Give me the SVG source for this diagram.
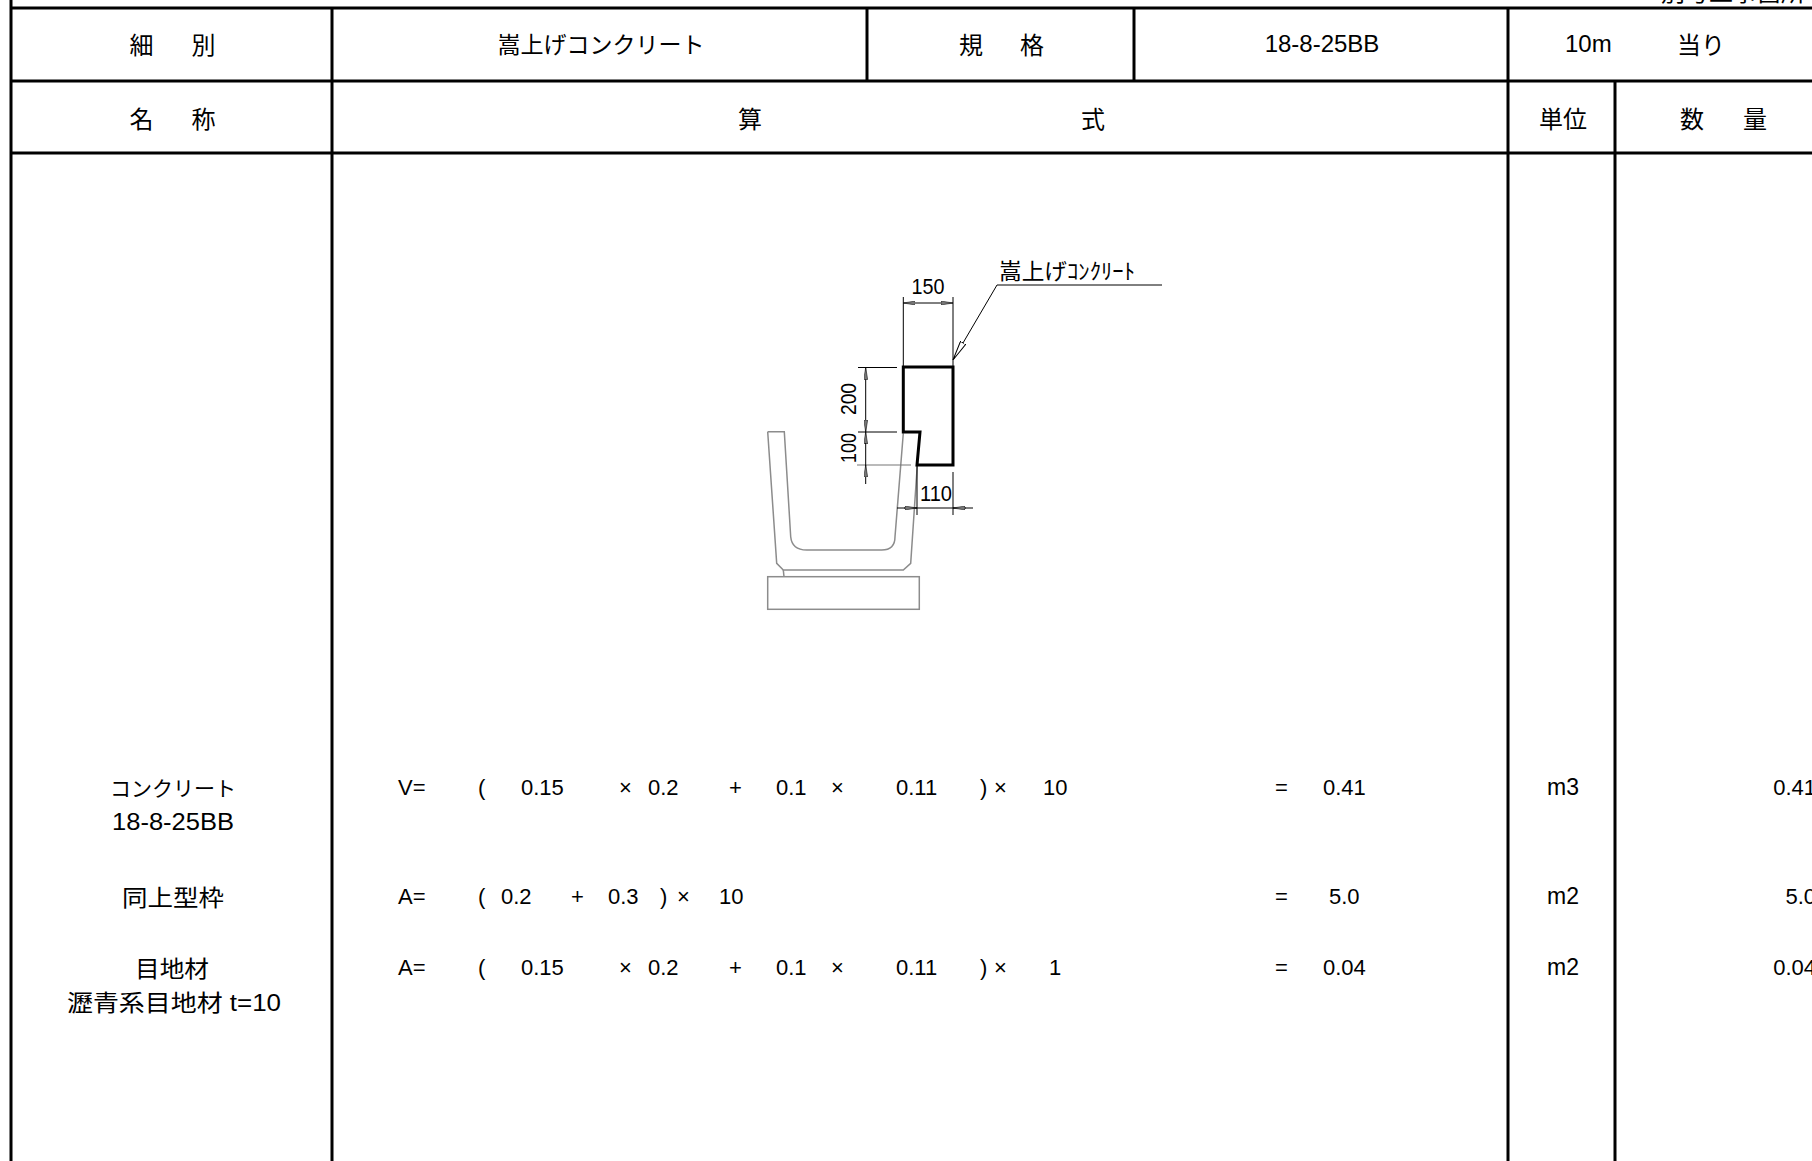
<svg xmlns="http://www.w3.org/2000/svg" width="1812" height="1161" viewBox="0 0 1812 1161">
<defs>
<style>
.grid{stroke:#000;stroke-width:3;fill:none}
.jp{font-family:"Noto Sans CJK JP","Liberation Sans",sans-serif;fill:#000;dominant-baseline:central}
.lat{font-family:"Liberation Sans","Noto Sans CJK JP",sans-serif;fill:#000;dominant-baseline:central}
.h{font-size:24px}
.b{font-size:21px}
.f{font-size:22px}
.c{text-anchor:middle}
.e{text-anchor:end}
.thin{stroke:#000;stroke-width:1;fill:none}
.gray{stroke:#8c8c8c;stroke-width:1.5;fill:none}
.dimtxt{font-family:"Liberation Sans",sans-serif;font-size:22px;fill:#000}
</style>
<marker id="dimArrow" viewBox="0 0 12 4" refX="12" refY="2" markerWidth="12" markerHeight="4" markerUnits="userSpaceOnUse" orient="auto-start-reverse">
<path d="M0,0 L12,2 L0,4 Z" fill="#777" stroke="#000" stroke-width="0.5"/>
</marker>
<marker id="openArrow" viewBox="0 0 20 7" refX="20" refY="3.5" markerWidth="20" markerHeight="7" markerUnits="userSpaceOnUse" orient="auto-start-reverse">
<path d="M0,0.5 L20,3.5 L0,6.5 Z" fill="#fff" stroke="#000" stroke-width="1"/>
</marker>
</defs>
<rect x="0" y="0" width="1812" height="1161" fill="#fff"/>

<g id="title-partial">
<text class="jp" x="1661" y="-10" font-size="24">別号工事箇所</text>
</g>

<g id="table-grid" class="grid">
<line x1="11" y1="0" x2="11" y2="1161"/>
<line x1="11" y1="8" x2="1812" y2="8"/>
<line x1="11" y1="81" x2="1812" y2="81"/>
<line x1="11" y1="153" x2="1812" y2="153"/>
<line x1="332" y1="8" x2="332" y2="1161"/>
<line x1="867" y1="8" x2="867" y2="81"/>
<line x1="1134" y1="8" x2="1134" y2="81"/>
<line x1="1508" y1="8" x2="1508" y2="1161"/>
<line x1="1615" y1="81" x2="1615" y2="1161"/>
</g>

<g id="header-row1">
<text class="jp h c" x="141.5" y="43">細</text>
<text class="jp h c" x="203.5" y="43">別</text>
<text class="jp c" x="601" y="43" font-size="23">嵩上げコンクリート</text>
<text class="jp h c" x="971" y="43">規</text>
<text class="jp h c" x="1032" y="43">格</text>
<text class="lat h c" x="1322" y="43">18-8-25BB</text>
<text class="lat h" x="1565" y="43">10m</text>
<text class="jp h" x="1677" y="43">当り</text>
</g>

<g id="header-row2">
<text class="jp h c" x="141.5" y="117">名</text>
<text class="jp h c" x="203.5" y="117">称</text>
<text class="jp h c" x="750" y="117">算</text>
<text class="jp h c" x="1093" y="117">式</text>
<text class="jp h c" x="1563" y="117">単位</text>
<text class="jp h c" x="1692" y="117">数</text>
<text class="jp h c" x="1755" y="117">量</text>
</g>

<g id="names">
<text class="jp b c" x="173" y="787">コンクリート</text>
<text class="lat c" x="173" y="822" font-size="23" textLength="122" lengthAdjust="spacingAndGlyphs">18-8-25BB</text>
<text class="jp c" x="173" y="896" font-size="23" textLength="102" lengthAdjust="spacingAndGlyphs">同上型枠</text>
<text class="jp c" x="172" y="967" font-size="23" textLength="74" lengthAdjust="spacingAndGlyphs">目地材</text>
<text class="lat c" x="174" y="1003" font-size="23" textLength="214" lengthAdjust="spacingAndGlyphs">瀝青系目地材 t=10</text>
</g>

<g id="formula-concrete" class="lat f">
<text x="398" y="787">V=</text>
<text x="478" y="787">(</text>
<text x="521" y="787">0.15</text>
<text x="619" y="787">×</text>
<text x="648" y="787">0.2</text>
<text x="729" y="787">+</text>
<text x="776" y="787">0.1</text>
<text x="831" y="787">×</text>
<text x="896" y="787">0.11</text>
<text x="980" y="787">)</text>
<text x="994" y="787">×</text>
<text x="1043" y="787">10</text>
<text x="1275" y="787">=</text>
<text x="1323" y="787">0.41</text>
</g>

<g id="formula-form" class="lat f">
<text x="398" y="896">A=</text>
<text x="478" y="896">(</text>
<text x="501" y="896">0.2</text>
<text x="571" y="896">+</text>
<text x="608" y="896">0.3</text>
<text x="660" y="896">)</text>
<text x="677" y="896">×</text>
<text x="719" y="896">10</text>
<text x="1275" y="896">=</text>
<text x="1329" y="896">5.0</text>
</g>

<g id="formula-joint" class="lat f">
<text x="398" y="967">A=</text>
<text x="478" y="967">(</text>
<text x="521" y="967">0.15</text>
<text x="619" y="967">×</text>
<text x="648" y="967">0.2</text>
<text x="729" y="967">+</text>
<text x="776" y="967">0.1</text>
<text x="831" y="967">×</text>
<text x="896" y="967">0.11</text>
<text x="980" y="967">)</text>
<text x="994" y="967">×</text>
<text x="1049" y="967">1</text>
<text x="1275" y="967">=</text>
<text x="1323" y="967">0.04</text>
</g>

<g id="units" class="lat f c">
<text x="1563" y="787" font-size="23">m3</text>
<text x="1563" y="896" font-size="23">m2</text>
<text x="1563" y="967" font-size="23">m2</text>
</g>

<g id="quantities" class="lat f e">
<text x="1816" y="787">0.41</text>
<text x="1816" y="896">5.0</text>
<text x="1816" y="967">0.04</text>
</g>

<g id="channel" class="gray">
<path d="M767.7,431.7 H784.3 L790.7,536.7 Q792,550 806.7,550 H881.7 Q895,550 895,536.7 L903.3,433.3"/>
<path d="M767.7,431.7 L776.7,563.3 L783.3,570 H903.3 L910.7,563.3 L917.3,465"/>
<line x1="783.3" y1="570" x2="784" y2="576.7"/>
<rect x="767.7" y="576.7" width="151.6" height="32.6"/>
</g>

<g id="raised-concrete">
<path d="M903.3,367 V432 H920 L917,465 H953 V367 Z" fill="none" stroke="#000" stroke-width="3"/>
</g>

<g id="connectors">
<g id="dim-150">
<line class="thin" x1="903.3" y1="297" x2="903.3" y2="366"/>
<line class="thin" x1="953" y1="297" x2="953" y2="366"/>
<line class="thin" x1="903.3" y1="303" x2="953" y2="303" marker-start="url(#dimArrow)" marker-end="url(#dimArrow)"/>
<text class="dimtxt" x="928" y="294" text-anchor="middle" textLength="33" lengthAdjust="spacingAndGlyphs">150</text>
</g>
<g id="dim-200-100">
<line class="thin" x1="858" y1="367.5" x2="897" y2="367.5"/>
<line class="thin" x1="858" y1="432" x2="897" y2="432"/>
<line x1="857" y1="465" x2="911" y2="465" stroke="#777" stroke-width="1.2"/>
<line class="thin" x1="865.7" y1="367.5" x2="865.7" y2="432" marker-start="url(#dimArrow)" marker-end="url(#dimArrow)"/>
<line class="thin" x1="865.7" y1="443" x2="865.7" y2="432" marker-end="url(#dimArrow)"/>
<line class="thin" x1="865.7" y1="484" x2="865.7" y2="465" marker-end="url(#dimArrow)"/>
<line class="thin" x1="865.7" y1="443" x2="865.7" y2="465"/>
<text class="dimtxt" transform="translate(856,399) rotate(-90)" text-anchor="middle" textLength="32" lengthAdjust="spacingAndGlyphs">200</text>
<text class="dimtxt" transform="translate(856,448) rotate(-90)" text-anchor="middle" textLength="30" lengthAdjust="spacingAndGlyphs">100</text>
</g>
<g id="dim-110">
<line class="thin" x1="917" y1="466" x2="917" y2="515"/>
<line class="thin" x1="953" y1="472" x2="953" y2="515"/>
<line class="thin" x1="897" y1="508" x2="973" y2="508"/>
<line class="thin" x1="904" y1="508" x2="917" y2="508" marker-end="url(#dimArrow)"/>
<line class="thin" x1="966" y1="508" x2="953" y2="508" marker-end="url(#dimArrow)"/>
<text class="dimtxt" x="936" y="501" text-anchor="middle" textLength="32" lengthAdjust="spacingAndGlyphs">110</text>
</g>
<g id="leader">
<path class="thin" d="M953,360 L997,285 H1162" marker-start="url(#openArrow)"/>
<text class="jp" x="999" y="269" font-size="22" textLength="136" lengthAdjust="spacingAndGlyphs">嵩上げｺﾝｸﾘｰﾄ</text>
</g>
</g>
</svg>
